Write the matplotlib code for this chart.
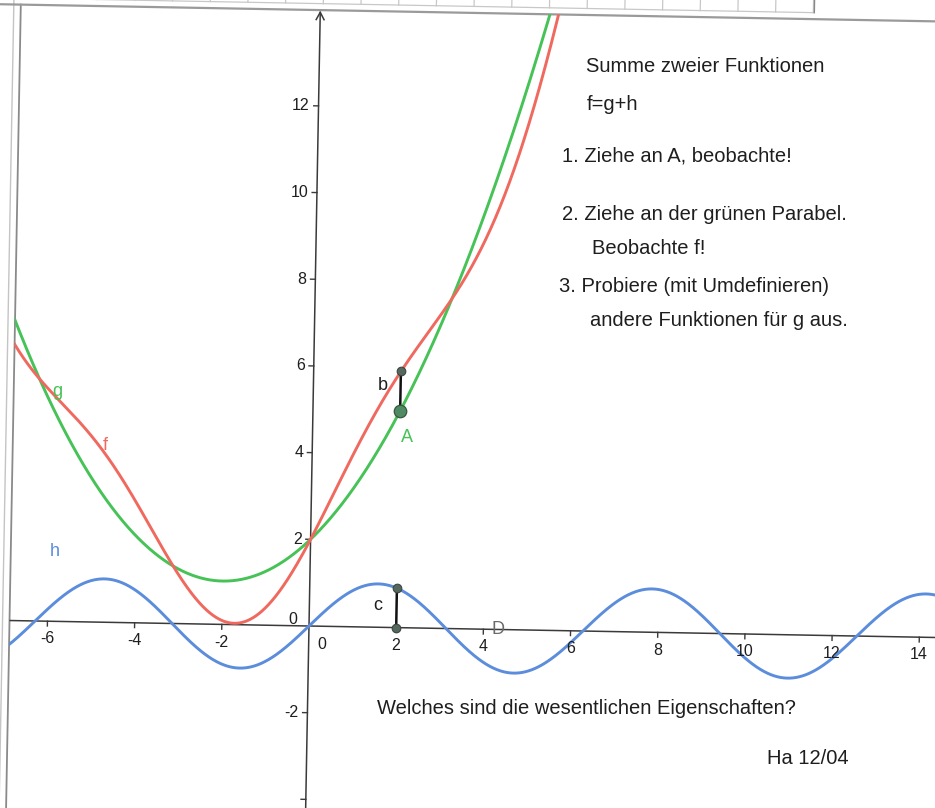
import numpy as np
import matplotlib
matplotlib.use("Agg")
import matplotlib.pyplot as plt
from matplotlib.transforms import Affine2D
from matplotlib.patches import Polygon

# ---- functions: g is a parabola, h a sine wave, f = g + h ----
g_coeffs = [0.25, 1.0, 2.0]        # g(x) = a*x^2 + b*x + c
h_amp = 1.0                        # h(x) = amp * sin(freq * x)
h_freq = 1.0
A_x = 2.0                          # point A lies on g, point for segments b and c

x_ticks = [-6, -4, -2, 2, 4, 6, 8, 10, 12, 14]
x_tick_labels = ["-6", "-4", "-2", "2", "4", "6", "8", "10", "12", "14"]
y_ticks = [-4, -2, 2, 4, 6, 8, 10, 12]
y_tick_labels = ["", "-2", "2", "4", "6", "8", "10", "12"]

info_lines = [
    ("Summe zweier Funktionen", 586, 66),
    ("f=g+h", 587, 105),
    ("1. Ziehe an A, beobachte!", 562, 156),
    ("2. Ziehe an der grünen Parabel.", 562, 215),
    ("Beobachte f!", 592, 249),
    ("3. Probiere (mit Umdefinieren)", 559, 286),
    ("andere Funktionen für g aus.", 590, 321),
    ("Welches sind die wesentlichen Eigenschaften?", 377, 708),
    ("Ha 12/04", 767, 758),
]


def g(x):
    a, b, c = g_coeffs
    return a * x ** 2 + b * x + c


def h(x):
    return h_amp * np.sin(h_freq * x)


def f(x):
    return g(x) + h(x)


W, H = 935, 808
plt.rcParams["font.family"] = ["Liberation Sans", "DejaVu Sans"]
fig = plt.figure(figsize=(W / 100, H / 100), dpi=100)
fig.patch.set_facecolor("white")

# view: origin at pixel (309, 626 from top), unit lengths in pixels
ox, oy = 309.0, 626.0
sx, sy = 43.6, 43.35
ax = fig.add_axes([0, 0, 1, 1])
ax.set_xlim(-ox / sx, (W - ox) / sx)
ax.set_ylim(-(H - oy) / sy, oy / sy)
ax.axis("off")

# the whole drawing sheet sits slightly turned
rot = Affine2D().rotate_deg_around(ox, H - oy, -1.05)
T = ax.transData + rot

frame_left, frame_top = -6.87, 14.21
clip = Polygon([[frame_left, -12], [30, -12], [30, frame_top], [frame_left, frame_top]],
               closed=True, transform=T, facecolor="none", edgecolor="none")
ax.add_patch(clip)

GREEN = "#46c257"
RED = "#f0695f"
BLUE = "#5b8ddc"
AXIS = "#3a3a3a"
TEXT = "#1e1e1e"

# sheet border and spreadsheet strip along the top
ax.plot([frame_left, frame_left], [-12, frame_top], color="#8a8a8a", lw=1.3, transform=T)
ax.plot([frame_left - 0.16, frame_left - 0.16], [-12, frame_top + 0.4], color="#c4c4c4", lw=1.0,
        transform=T)
ax.plot([-9, 17], [frame_top, frame_top], color="#9a9a9a", lw=1.6, transform=T)
strip_y = frame_top + 0.15
strip_end = (803 - ox) / sx
ax.plot([-9, strip_end], [strip_y, strip_y], color="#c8c8c8", lw=0.9, transform=T)
col_w = 37.7 / sx
xs_col = (48 - ox) / sx + col_w * np.arange(-2, 30)
for xc in xs_col:
    if xc <= strip_end + 0.01:
        ax.plot([xc, xc], [strip_y, strip_y + 0.5], color="#c8c8c8", lw=0.9, transform=T)
ax.plot([strip_end, strip_end], [strip_y, strip_y + 0.5], color="#888888", lw=1.0, transform=T)

# coordinate axes
xaxis_line, = ax.plot([frame_left, 17], [0, 0], color=AXIS, lw=1.1, transform=T)
xaxis_line.set_clip_path(clip)
ax.plot([0, 0], [-6, frame_top - 0.05], color=AXIS, lw=1.1, transform=T)
ax.plot([-0.09, 0, 0.09], [frame_top - 0.22, frame_top - 0.05, frame_top - 0.22],
        color=AXIS, lw=1.1, transform=T)

tick_len = 0.11
for xt, lab in zip(x_ticks, x_tick_labels):
    ax.plot([xt, xt], [0, -tick_len], color=AXIS, lw=1.0, transform=T)
    ax.text(xt, -0.41, lab, transform=T, ha="center", va="center",
            fontsize=11.5, color=TEXT)
for yt, lab in zip(y_ticks, y_tick_labels):
    ax.plot([0, -tick_len], [yt, yt], color=AXIS, lw=1.0, transform=T)
    if lab:
        ax.text(-0.2, yt, lab, transform=T, ha="right", va="center",
                fontsize=11.5, color=TEXT)
ax.text(0.3, -0.41, "0", transform=T, ha="center", va="center", fontsize=11.5, color=TEXT)
ax.text(-0.37, 0.14, "0", transform=T, ha="center", va="center", fontsize=11.5, color=TEXT)

# function graphs
xs = np.linspace(-9, 17, 3000)
for fn, col in ((h, BLUE), (g, GREEN), (f, RED)):
    ln, = ax.plot(xs, fn(xs), color=col, lw=2.1, transform=T, solid_capstyle="round")
    ln.set_clip_path(clip)

# segments b (g to f) and c (axis to h) at x = A_x, with their end points
ax.plot([A_x, A_x], [g(A_x), f(A_x)], color="#111111", lw=1.8, transform=T)
ax.plot([A_x, A_x], [0, h(A_x)], color="#111111", lw=1.8, transform=T)
for yy in (f(A_x), 0.0, h(A_x)):
    ax.plot([A_x], [yy], marker="o", ms=6.2, mfc="#56675d", mec="#3b4740", mew=0.8,
            transform=T)
ax.plot([A_x], [g(A_x)], marker="o", ms=9, mfc="#4f8a62", mec="#35573f", mew=0.9,
        transform=T)


def ptext(px, py, s, **kw):
    fig.text(px / W, 1 - py / H, s, **kw)


# object labels
ptext(57, 392, "g", color=GREEN, fontsize=13, ha="center", va="center")
ptext(105, 445, "f", color=RED, fontsize=13, ha="center", va="center")
ptext(55, 552, "h", color=BLUE, fontsize=13, ha="center", va="center")
ptext(407, 437, "A", color=GREEN, fontsize=13, ha="center", va="center")
ptext(383, 385, "b", color=TEXT, fontsize=13, ha="center", va="center")
ptext(378, 605, "c", color=TEXT, fontsize=13, ha="center", va="center")
ptext(498, 630, "D", color="#6a6a6a", fontsize=13, ha="center", va="center")

# explanatory text
for s, px, py in info_lines:
    ptext(px, py, s, color=TEXT, fontsize=14.5, ha="left", va="center")

fig.savefig("out.png", dpi=100, facecolor="white")
